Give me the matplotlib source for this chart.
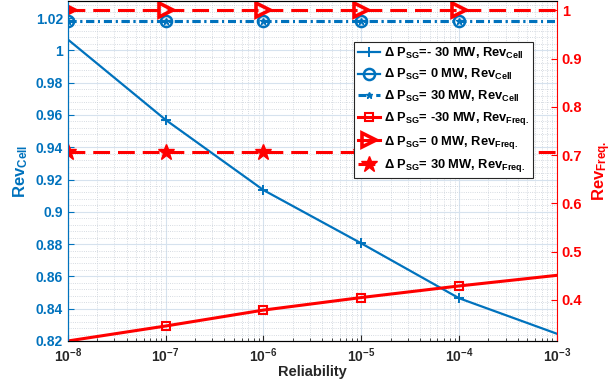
import matplotlib
matplotlib.use("Agg")
import matplotlib.pyplot as plt
import matplotlib.ticker as mticker
from matplotlib.lines import Line2D
import numpy as np

plt.rcParams['font.family'] = ['Liberation Sans', 'DejaVu Sans']
plt.rcParams['font.weight'] = 'bold'
plt.rcParams['mathtext.fontset'] = 'custom'
plt.rcParams['mathtext.rm'] = 'Liberation Sans:bold'
plt.rcParams['mathtext.bf'] = 'Liberation Sans:bold'
plt.rcParams['mathtext.it'] = 'Liberation Sans:bold'

reliability = [1e-8, 1e-7, 1e-6, 1e-5, 1e-4, 1e-3]
rev_cell_m30 = [1.0068, 0.957, 0.9135, 0.8805, 0.8465, 0.8245]
rev_cell_0 = [1.0185, 1.0185, 1.0185, 1.0185, 1.0185, 1.0185]
rev_cell_p30 = [1.0185, 1.0185, 1.0185, 1.0185, 1.0185, 1.0185]
rev_freq_m30 = [0.315, 0.346, 0.379, 0.405, 0.429, 0.451]
rev_freq_0 = [1.0, 1.0, 1.0, 1.0, 1.0, 1.0]
rev_freq_p30 = [0.706, 0.706, 0.706, 0.706, 0.706, 0.706]

xtick_vals = [1e-8, 1e-7, 1e-6, 1e-5, 1e-4, 1e-3]
xtick_labels = [r'$\mathbf{10^{-8}}$', r'$\mathbf{10^{-7}}$', r'$\mathbf{10^{-6}}$',
                r'$\mathbf{10^{-5}}$', r'$\mathbf{10^{-4}}$', r'$\mathbf{10^{-3}}$']
left_ticks = [0.82, 0.84, 0.86, 0.88, 0.9, 0.92, 0.94, 0.96, 0.98, 1.0, 1.02]
left_labels = ['0.82', '0.84', '0.86', '0.88', '0.9', '0.92', '0.94', '0.96', '0.98', '1', '1.02']
right_ticks = [0.4, 0.5, 0.6, 0.7, 0.8, 0.9, 1.0]
right_labels = ['0.4', '0.5', '0.6', '0.7', '0.8', '0.9', '1']

labels = [r'Δ P$_{\mathbf{SG}}$=- 30 MW, Rev$_{\mathbf{Cell}}$',
          r'Δ P$_{\mathbf{SG}}$= 0 MW, Rev$_{\mathbf{Cell}}$',
          r'Δ P$_{\mathbf{SG}}$= 30 MW, Rev$_{\mathbf{Cell}}$',
          r'Δ P$_{\mathbf{SG}}$= -30 MW, Rev$_{\mathbf{Freq.}}$',
          r'Δ P$_{\mathbf{SG}}$= 0 MW, Rev$_{\mathbf{Freq.}}$',
          r'Δ P$_{\mathbf{SG}}$= 30 MW, Rev$_{\mathbf{Freq.}}$']

blue = '#0072BD'
red = '#FF0000'
dashdot = (2.6, 1.3, 0.6, 1.3)
dash = (5.5, 2.6)
inner = [1, 2, 3, 4]
lefty = [0, 1, 2, 3, 4]

fig = plt.figure(figsize=(6.16, 3.81), dpi=100)
ax = fig.add_axes([0.110, 0.105, 0.794, 0.892])
ax2 = ax.twinx()

l1, = ax.plot(reliability, rev_cell_m30, '-', color=blue, lw=1.6, marker='+', ms=7, mew=1.4,
              markevery=inner)
l2, = ax.plot(reliability, rev_cell_0, color=blue, lw=2.2, dashes=dashdot, marker='o', ms=8,
              mfc='none', mew=1.8, markevery=lefty)
l3, = ax.plot(reliability, rev_cell_p30, color=blue, lw=2.2, dashes=dashdot, marker='*', ms=5,
              markevery=lefty)

l4, = ax2.plot(reliability, rev_freq_m30, '-', color=red, lw=2.2, marker='s', ms=6, mfc='none', mew=1.5,
               markevery=inner)
l5, = ax2.plot(reliability, rev_freq_0, color=red, lw=2.2, dashes=dash, marker='>', ms=10,
               mfc='none', mew=2.6, markevery=lefty)
l6, = ax2.plot(reliability, rev_freq_p30, color=red, lw=2.2, dashes=dash, marker='*', ms=12,
               markevery=lefty)

h2 = Line2D([], [], color=blue, lw=1.6, ls='-', marker='o', ms=8, mfc='none', mew=1.8)
h5 = Line2D([], [], color=red, lw=2.2, ls='-', marker='>', ms=10, mfc='none', mew=2.6)

ax.set_xscale('log')
ax.set_xlim(1e-8, 1e-3)
ax.set_ylim(0.82, 1.0305)
ax2.set_ylim(0.315, 1.019)

ax.set_xticks(xtick_vals)
ax.set_xticklabels(xtick_labels)
ax.xaxis.set_minor_locator(mticker.LogLocator(base=10, subs=np.arange(2, 10), numticks=20))
ax.xaxis.set_minor_formatter(mticker.NullFormatter())
ax.set_yticks(left_ticks)
ax.set_yticklabels(left_labels)
ax.yaxis.set_minor_locator(mticker.MultipleLocator(0.004))
ax2.set_yticks(right_ticks)
ax2.set_yticklabels(right_labels)

ax.tick_params(axis='both', which='both', direction='in', labelsize=10)
ax.tick_params(axis='x', which='major', length=4, pad=4, colors='#262626')
ax.tick_params(axis='x', which='minor', length=2, colors='#262626')
ax.tick_params(axis='y', which='major', length=4, colors=blue)
ax.tick_params(axis='y', which='minor', length=0)
ax2.tick_params(axis='y', which='both', direction='in', length=4, colors=red, labelsize=10.5)
for lab in ax.get_yticklabels() + ax2.get_yticklabels() + ax.get_xticklabels():
    lab.set_fontweight('bold')

ax.grid(True, which='major', color='#d6e2ee', lw=0.8, ls='-')
ax.grid(True, which='minor', color='#c8cfd8', lw=0.6, ls=':')

ax.spines['left'].set_color(blue)
ax.spines['right'].set_visible(False)
ax.spines['top'].set_color('#262626')
ax.spines['bottom'].set_color('#262626')
ax2.spines['right'].set_color(red)
ax2.spines['left'].set_color(blue)
for sp in list(ax.spines.values()) + list(ax2.spines.values()):
    sp.set_linewidth(0.8)

ax.set_xlabel('Reliability', fontsize=10.5, fontweight='bold', color='#262626', labelpad=0)
ax.set_ylabel(r'Rev$_{\mathbf{Cell}}$', fontsize=12, fontweight='bold', color=blue, labelpad=4)
ax2.set_ylabel(r'Rev$_{\mathbf{Freq.}}$', fontsize=12, fontweight='bold', color=red, labelpad=6)

leg = ax2.legend(handles=[l1, h2, l3, l4, h5, l6], labels=labels, loc='upper right',
                 bbox_to_anchor=(0.952, 0.88), frameon=True, fancybox=False,
                 edgecolor='#262626', framealpha=1, handlelength=1.7, handletextpad=0.3,
                 labelspacing=0.5, borderpad=0.3, borderaxespad=0,
                 prop={'weight': 'bold', 'size': 9.3})
leg.get_frame().set_linewidth(0.8)

fig.savefig('out.png', dpi=100)
